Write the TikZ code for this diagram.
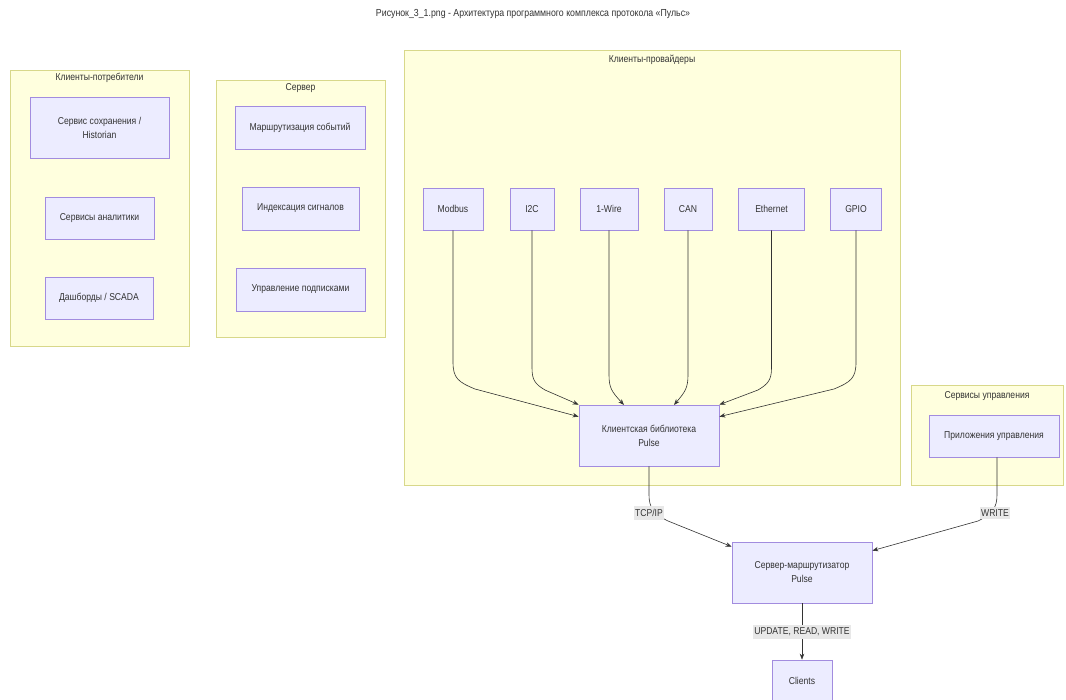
\documentclass[tikz,border=0pt]{standalone}
\usepackage{fontspec}
\setmainfont[FakeStretch=0.86]{Liberation Sans}
\usetikzlibrary{arrows.meta,calc}
\definecolor{grpfill}{HTML}{FFFFDE}
\definecolor{grpline}{HTML}{D8D88A}
\definecolor{nodefill}{HTML}{ECECFF}
\definecolor{nodeline}{HTML}{A28CDF}
\definecolor{edgecol}{HTML}{333333}
\definecolor{lblfill}{HTML}{E8E8E8}
\definecolor{txt}{HTML}{333333}
\tikzset{
  grp/.style={draw=grpline, fill=grpfill, line width=0.8pt},
  box/.style={draw=nodeline, fill=nodefill, line width=0.7pt},
  boxtxt/.style={text=txt, font=\fontsize{10}{14}\selectfont, align=center},
  grptitle/.style={text=txt, font=\fontsize{10}{11}\selectfont},
  edge/.style={draw=edgecol, line width=0.6pt, -{Stealth[length=6pt,width=4.5pt]}},
  lbl/.style={fill=lblfill, text=txt, font=\fontsize{10}{11}\selectfont, inner xsep=1.5pt, inner ysep=3pt}
}
\begin{document}
\begin{tikzpicture}[x=1pt,y=-1pt]
\useasboundingbox (0,0) rectangle (1066,700);
\fill[white] (0,0) rectangle (1066,700);
% title
\node[text=txt, font=\fontsize{10.2}{11}\selectfont] (title) at (533,14) {Рисунок\_3\_1.png - Архитектура программного комплекса протокола «Пульс»};

% groups
\draw[grp] (10,70) rectangle (189,346);
\node[grptitle] (g1) at (99.5,78) {Клиенты-потребители};
\draw[grp] (216,80) rectangle (385,337);
\node[grptitle] (g2) at (300.5,88) {Сервер};
\draw[grp] (404,50) rectangle (900,485);
\node[grptitle] (g3) at (652,60) {Клиенты-провайдеры};
\draw[grp] (911,385) rectangle (1063,485);
\node[grptitle] (g4) at (987,396) {Сервисы управления};

% consumer nodes
\draw[box] (30,97) rectangle (169,158);
\node[boxtxt] (hist) at (99.5,127.5) {Сервис сохранения /\\Historian};
\draw[box] (45,197) rectangle (154,239);
\node[boxtxt] (anal) at (99.5,218) {Сервисы аналитики};
\draw[box] (45,277) rectangle (153,319);
\node[boxtxt] (dash) at (99,298) {Дашборды / SCADA};

% server nodes
\draw[box] (235,106) rectangle (365,149);
\node[boxtxt] (route) at (300,127.5) {Маршрутизация событий};
\draw[box] (242,187) rectangle (359,230);
\node[boxtxt] (index) at (300.5,208.5) {Индексация сигналов};
\draw[box] (236,268) rectangle (365,311);
\node[boxtxt] (subs) at (300.5,289.5) {Управление подписками};

% providers
\node[box, boxtxt, minimum width=60pt, minimum height=42pt, inner sep=0pt] (modbus) at (453,209) {Modbus};
\node[box, boxtxt, minimum width=44pt, minimum height=42pt, inner sep=0pt] (i2c) at (532,209) {I2C};
\node[box, boxtxt, minimum width=58pt, minimum height=42pt, inner sep=0pt] (wire) at (609,209) {1-Wire};
\node[box, boxtxt, minimum width=48pt, minimum height=42pt, inner sep=0pt] (can) at (688,209) {CAN};
\node[box, boxtxt, minimum width=66pt, minimum height=42pt, inner sep=0pt] (eth) at (771.5,209) {Ethernet};
\node[box, boxtxt, minimum width=51pt, minimum height=42pt, inner sep=0pt] (gpio) at (856,209) {GPIO};

\node[box, boxtxt, minimum width=140pt, minimum height=61pt, inner sep=0pt] (lib) at (649,435.5) {Клиентская библиотека\\Pulse};

% control
\node[box, boxtxt, minimum width=130pt, minimum height=42pt, inner sep=0pt] (app) at (994,436) {Приложения управления};

% router
\node[box, boxtxt, minimum width=140pt, minimum height=61pt, inner sep=0pt] (srv) at (802,572.5) {Сервер-маршрутизатор\\Pulse};
\node[box, boxtxt, minimum width=60pt, minimum height=42pt, inner sep=0pt] (cli) at (802,681) {Clients};

% edges provider -> lib
\draw[edge] (modbus.south) -- (modbus.south |- 0,362) .. controls +(0,16) and (458,382) .. (475,389) -- ($(lib.north west)+(0,12)$);
\draw[edge] (i2c.south) -- (i2c.south |- 0,368) .. controls +(0,12) and (535,384) .. (545,390) -- (lib.north west);
\draw[edge] (wire.south) -- (wire.south |- 0,375) .. controls +(0,13) and (612,392) .. (624,405);
\draw[edge] (can.south) -- (can.south |- 0,375) .. controls +(0,13) and (685,392) .. (674,405);
\draw[edge] (eth.south) -- (eth.south |- 0,368) .. controls +(0,12) and (768,384) .. (758,390) -- (lib.north east);
\draw[edge] (gpio.south) -- (gpio.south |- 0,362) .. controls +(0,16) and (851,382) .. (834,389) -- ($(lib.north east)+(0,12)$);

% lib -> srv
\draw[edge] (lib.south) -- (649,495) .. controls (649,508) and (654,514) .. (668,521) -- ($(srv.north west)+(0,5)$);
\node[lbl] (l1) at (649,513) {TCP/IP};
% app -> srv
\draw[edge] (app.south -| 997,0) -- (997,495) .. controls (997,508) and (992,514) .. (978,521) -- ($(srv.north east)+(0,9)$);
\node[lbl] (l2) at (995,513) {WRITE};
% srv -> clients
\draw[edge] (srv.south) -- (cli.north);
\node[lbl] (l3) at (802,632) {UPDATE, READ, WRITE};
\end{tikzpicture}
\end{document}
